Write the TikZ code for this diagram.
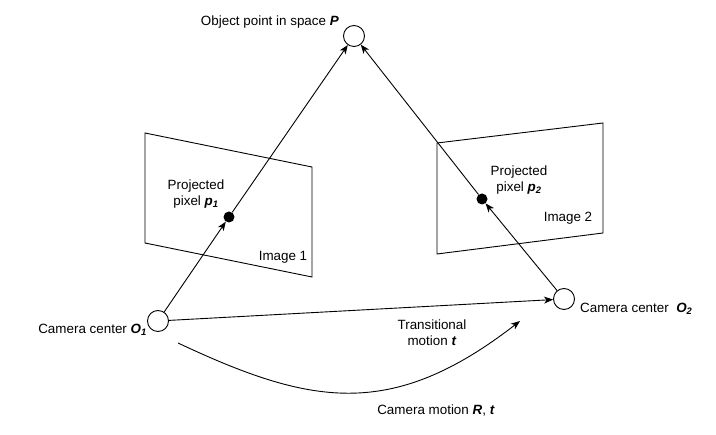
\documentclass[tikz,border=0pt]{standalone}
\usepackage{fontspec}
\setmainfont{Liberation Sans}
\usetikzlibrary{arrows.meta}
\tikzset{
  circ/.style={circle,draw,line width=0.9pt,fill=white,minimum size=21pt,inner sep=0pt},
  pdot/.style={circle,fill=black,minimum size=11pt,inner sep=0pt},
  lbl/.style={font=\fontsize{13.4}{16}\selectfont,align=center,inner sep=0pt},
  conn/.style={line width=0.9pt,-{Stealth[length=9pt,width=7pt,inset=2.5pt]}},
  plane/.style={line width=0.9pt},
}
\newcommand{\bi}[1]{\textbf{\textit{#1}}}
\begin{document}
\begin{tikzpicture}[x=1pt,y=-1pt]
\useasboundingbox (0,0) rectangle (716,435);
% image planes
\draw[plane] (145,133) coordinate (a1) -- (312,167) coordinate (a2) -- (312,277) coordinate (a3) -- (145,243) coordinate (a4) -- cycle;
\draw[plane] (437,143) coordinate (b1) -- (603,123) coordinate (b2) -- (603,233) coordinate (b3) -- (437,254) coordinate (b4) -- cycle;
% points
\node[circ] (P) at (354,36) {};
\node[circ] (O1) at (158,321) {};
\node[circ] (O2) at (564,299) {};
\node[pdot] (p1) at (229,217) {};
\node[pdot] (p2) at (482,199) {};
% connectors
\draw[conn] (O1) -- (p1);
\draw[conn] (p1) -- (P);
\draw[conn] (O2) -- (p2);
\draw[conn] (p2) -- (P);
\draw[conn] (O1) -- (O2);
\coordinate (c1) at (178,343);
\coordinate (c2) at (520,321);
\draw[conn] (c1) .. controls (310,405) and (391,421) .. (c2);
% labels
\node[lbl,anchor=east] (tP) at (339,22) {Object point in space \bi{P}};
\node[lbl] (tp1) at (196,194) {Projected\\pixel \bi{p\textsubscript{1}}};
\node[lbl] (ti1) at (283,257) {Image 1};
\node[lbl] (tp2) at (519,180) {Projected\\pixel \bi{p\textsubscript{2}}};
\node[lbl] (ti2) at (568,218) {Image 2};
\node[lbl,anchor=east] (tO1) at (147,330) {Camera center \bi{O\textsubscript{1}}};
\node[lbl,anchor=west] (tO2) at (580,309) {Camera center\ \ \bi{O\textsubscript{2}}};
\node[lbl] (tt) at (432,333) {Transitional\\motion \bi{t}};
\node[lbl] (tR) at (436,411) {Camera motion \bi{R}, \bi{t}};
\end{tikzpicture}
\end{document}
